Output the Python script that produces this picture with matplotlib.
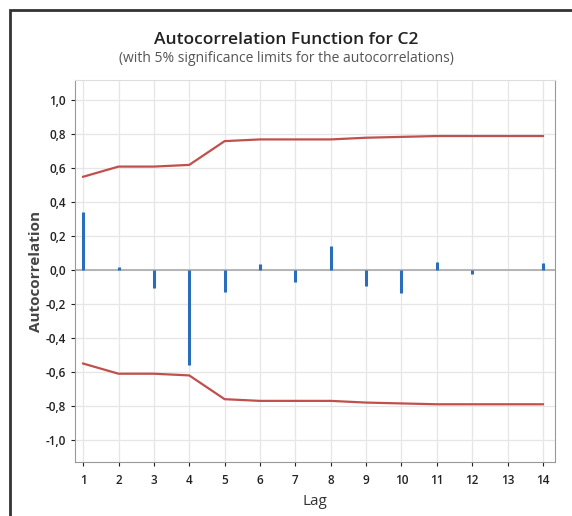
import matplotlib.pyplot as plt
from matplotlib.patches import Rectangle

lags = [1, 2, 3, 4, 5, 6, 7, 8, 9, 10, 11, 12, 13, 14]
acf = [0.343, 0.016, -0.104, -0.559, -0.131, 0.039, -0.07, 0.143,
       -0.094, -0.137, 0.049, -0.02, 0.003, 0.04]
upper = [0.55, 0.61, 0.61, 0.62, 0.76, 0.77, 0.77, 0.77, 0.78, 0.785,
         0.79, 0.79, 0.79, 0.79]
lower = [-u for u in upper]
yticks = [-1.0, -0.8, -0.6, -0.4, -0.2, 0.0, 0.2, 0.4, 0.6, 0.8, 1.0]
ytick_labels = [f"{v:.1f}".replace(".", ",") for v in yticks]

plt.rcParams['font.family'] = ['Open Sans', 'DejaVu Sans']

fig = plt.figure(figsize=(5.72, 5.16), dpi=100)
W, H = 572, 516
ax = fig.add_axes([75 / W, 1 - 462 / H, 480 / W, 382 / H])

# outer frame
fig.patches.append(Rectangle((10 / W, -0.05), 1.2, 1 - 10 / H + 0.05,
                             transform=fig.transFigure, fill=False,
                             edgecolor='#333333', linewidth=2))

ax.grid(True, color='#e6e6e6', linewidth=0.9)
ax.set_axisbelow(True)
ax.axhline(0, color='#aaaaaa', linewidth=1.2, zorder=1)
ax.vlines(lags, 0, acf, color='#2a6ebb', linewidth=2.2, zorder=3)
ax.plot(lags, upper, color='#c0504d', linewidth=1.6, zorder=2)
ax.plot(lags, lower, color='#c0504d', linewidth=1.6, zorder=2)

ax.set_xlim(0.77, 14.34)
ax.set_ylim(-1.13, 1.12)
ax.set_xticks(lags)
ax.set_yticks(yticks)
ax.set_yticklabels(ytick_labels)
ax.tick_params(axis='both', labelsize=8.5, colors='#222222', length=3,
               width=0.8)
ax.tick_params(axis='x', pad=6)
for lbl in ax.get_xticklabels() + ax.get_yticklabels():
    lbl.set_fontweight('semibold')
for side in ['left', 'bottom', 'right']:
    ax.spines[side].set_color('#999999')
ax.spines['top'].set_color('#dddddd')

ax.set_xlabel('Lag', fontsize=11, color='#333333', labelpad=5)
ax.set_ylabel('Autocorrelation', fontsize=11, color='#444444',
              fontweight='bold', labelpad=2)

fig.text(0.5, 1 - 40 / H, 'Autocorrelation Function for C2', ha='center',
         va='center', fontsize=12.5, color='#222222', fontweight='semibold')
fig.text(0.5, 1 - 58 / H, '(with 5% significance limits for the autocorrelations)',
         ha='center', va='center', fontsize=10, color='#555555')

fig.savefig('out.png', dpi=100)
